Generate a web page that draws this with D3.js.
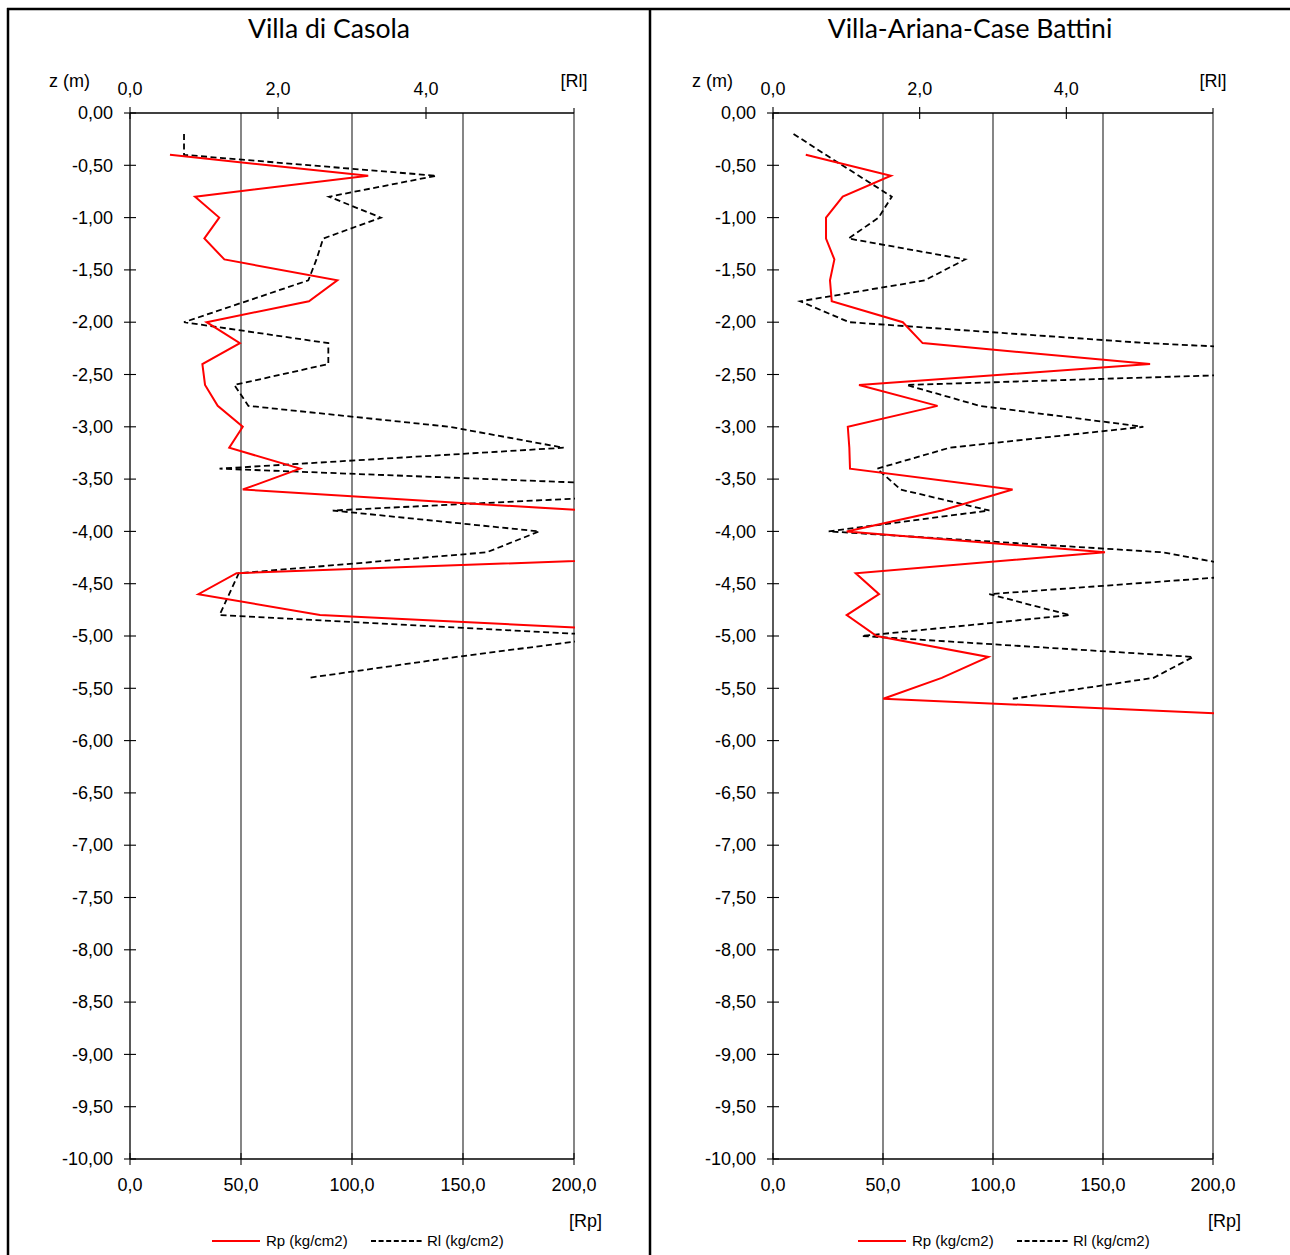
<!DOCTYPE html>
<html>
<head>
<meta charset="utf-8">
<script src="https://cdn.jsdelivr.net/npm/d3@7"></script>
<style>
  html, body { margin: 0; padding: 0; background: #fff; }
  svg { display: block; }
  .tick-label { font-family: "Liberation Sans", Arial, sans-serif; font-size: 18px; fill: #000; }
  .title { font-family: Lato, "Open Sans", sans-serif; font-size: 26.6px; fill: #000; }
  .legend { font-family: "Liberation Sans", Arial, sans-serif; font-size: 15px; fill: #000; }
</style>
</head>
<body>
<svg id="chart" width="1290" height="1255"></svg>
<script>
// ---------------- DATA ----------------
const titles = ["Villa di Casola", "Villa-Ariana-Case Battini"];

// Depth axis ticks (m)
const depthTicks = [0, -0.5, -1, -1.5, -2, -2.5, -3, -3.5, -4, -4.5, -5, -5.5, -6, -6.5, -7, -7.5, -8, -8.5, -9, -9.5, -10];
// Rp axis (bottom) ticks, Rl axis (top) ticks
const rpTicks = [0, 50, 100, 150, 200];
const rlTicks = [0, 2, 4, 6];

// Villa di Casola
const casolaRpDepth = [-0.4, -0.6, -0.8, -1.0, -1.2, -1.4, -1.6, -1.8, -2.0, -2.2, -2.4, -2.6, -2.8, -3.0, -3.2, -3.4, -3.6, -3.8, -4.0, -4.2, -4.4, -4.6, -4.8, -5.0];
const casolaRp      = [18.0, 107.3, 29.3, 40.2, 33.5, 42.5, 93.4, 80.6, 34.5, 49.5, 32.6, 33.8, 39.5, 50.8, 44.7, 76.6, 50.8, 205, 260, 308, 48.0, 30.8, 85.6, 281];
const casolaRlDepth = [-0.2, -0.4, -0.6, -0.8, -1.0, -1.2, -1.4, -1.6, -1.8, -2.0, -2.2, -2.4, -2.6, -2.8, -3.0, -3.2, -3.4, -3.6, -3.8, -4.0, -4.2, -4.4, -4.6, -4.8, -5.0, -5.2, -5.4];
const casolaRl      = [0.73, 0.73, 4.14, 2.69, 3.39, 2.61, 2.52, 2.41, 1.57, 0.73, 2.68, 2.68, 1.41, 1.60, 4.32, 5.86, 1.21, 8.5, 2.74, 5.53, 4.82, 1.47, 1.34, 1.21, 6.6, 4.41, 2.41];

// Villa-Ariana-Case Battini
const arianaRpDepth = [-0.4, -0.6, -0.8, -1.0, -1.2, -1.4, -1.6, -1.8, -2.0, -2.2, -2.4, -2.6, -2.8, -3.0, -3.2, -3.4, -3.6, -3.8, -4.0, -4.2, -4.4, -4.6, -4.8, -5.0, -5.2, -5.4, -5.6, -5.8];
const arianaRp      = [14.9, 53.6, 31.7, 24.1, 24.1, 27.9, 25.9, 26.7, 59.0, 68.0, 171.4, 39.1, 74.8, 34.0, 34.7, 35.0, 108.9, 76.7, 33.5, 150.9, 37.6, 48.2, 33.5, 47.1, 97.9, 76.7, 50.1, 267];
const arianaRlDepth = [-0.2, -0.4, -0.6, -0.8, -1.0, -1.2, -1.4, -1.6, -1.8, -2.0, -2.2, -2.4, -2.6, -2.8, -3.0, -3.2, -3.4, -3.6, -3.8, -4.0, -4.2, -4.4, -4.6, -4.8, -5.0, -5.2, -5.4, -5.6];
const arianaRl      = [0.28, 0.72, 1.17, 1.62, 1.44, 1.03, 2.62, 2.07, 0.37, 1.04, 5.1, 11, 1.82, 2.82, 5.05, 2.41, 1.42, 1.74, 2.95, 0.76, 5.32, 6.85, 2.95, 4.05, 1.21, 5.73, 5.19, 3.27];

const legendLabels = ["Rp (kg/cm2)", "Rl (kg/cm2)"];
const axisLabels = { depth: "z (m)", rl: "[Rl]", rp: "[Rp]" };

// ---------------- LAYOUT ----------------
const svg = d3.select("#chart");
const fmtDepth = v => (Math.abs(v) < 1e-9 ? "0,00" : d3.format(".2f")(v).replace("\u2212", "-").replace(".", ","));
const fmtOne = v => d3.format(".1f")(v).replace("\u2212", "-").replace(".", ",");

const panels = [
  { title: titles[0], cx: 329, x0: 130, x1: 574, rpD: casolaRpDepth, rp: casolaRp, rlD: casolaRlDepth, rl: casolaRl, legX: 212 },
  { title: titles[1], cx: 970, x0: 773, x1: 1213, rpD: arianaRpDepth, rp: arianaRp, rlD: arianaRlDepth, rl: arianaRl, legX: 858 }
];
const yTop = 113, yBot = 1159;

// Frame
svg.append("line").attr("x1", 7).attr("x2", 1290).attr("y1", 9).attr("y2", 9).attr("stroke", "#000").attr("stroke-width", 2.5);
svg.append("line").attr("x1", 8).attr("x2", 8).attr("y1", 8).attr("y2", 1255).attr("stroke", "#000").attr("stroke-width", 2.5);
svg.append("line").attr("x1", 650).attr("x2", 650).attr("y1", 8).attr("y2", 1255).attr("stroke", "#000").attr("stroke-width", 2.5);

panels.forEach((p, i) => {
  const g = svg.append("g");
  const y = d3.scaleLinear().domain([0, -10]).range([yTop, yBot]);
  const xRp = d3.scaleLinear().domain([0, 200]).range([p.x0, p.x1]);
  const xRl = d3.scaleLinear().domain([0, 6]).range([p.x0, p.x1]);

  // title
  g.append("text").attr("class", "title").attr("x", p.cx).attr("y", 38).attr("text-anchor", "middle").text(p.title);

  // vertical gridlines
  g.selectAll(".grid").data(rpTicks.slice(1)).enter().append("line")
    .attr("x1", d => xRp(d)).attr("x2", d => xRp(d)).attr("y1", yTop).attr("y2", yBot)
    .attr("stroke", "#222").attr("stroke-width", 1.1);

  // left depth axis
  const yAxis = d3.axisLeft(y).tickValues(depthTicks).tickFormat(fmtDepth).tickSize(0).tickPadding(17);
  const ya = g.append("g").attr("transform", `translate(${p.x0},0)`).call(yAxis);
  ya.select(".domain").remove();
  ya.selectAll("text").attr("class", "tick-label").attr("font-family", null).attr("font-size", null);
  g.append("line").attr("x1", p.x0).attr("x2", p.x0).attr("y1", yTop).attr("y2", yBot).attr("stroke", "#000").attr("stroke-width", 1.3);
  g.selectAll(".ytick").data(depthTicks).enter().append("line")
    .attr("x1", p.x0 - 6).attr("x2", p.x0 + 6).attr("y1", d => y(d)).attr("y2", d => y(d))
    .attr("stroke", "#000").attr("stroke-width", 1.1);

  // top axis (Rl)
  g.append("line").attr("x1", p.x0).attr("x2", p.x1).attr("y1", yTop).attr("y2", yTop).attr("stroke", "#000").attr("stroke-width", 1.3);
  g.selectAll(".ttick").data(rlTicks).enter().append("line")
    .attr("x1", d => xRl(d)).attr("x2", d => xRl(d)).attr("y1", d => d === 6 ? yTop - 5 : yTop - 6).attr("y2", d => d === 6 ? yTop : yTop + 6)
    .attr("stroke", "#000").attr("stroke-width", 1.1);
  g.selectAll(".tlabel").data(rlTicks.slice(0, 3)).enter().append("text")
    .attr("class", "tick-label").attr("x", d => xRl(d)).attr("y", 95).attr("text-anchor", "middle").text(fmtOne);
  g.append("text").attr("class", "tick-label").attr("x", xRl(6)).attr("y", 87).attr("text-anchor", "middle").text(axisLabels.rl);
  g.append("text").attr("class", "tick-label").attr("x", p.x0 - 40).attr("y", 87).attr("text-anchor", "end").text(axisLabels.depth);

  // bottom axis (Rp)
  g.append("line").attr("x1", p.x0).attr("x2", p.x1).attr("y1", yBot).attr("y2", yBot).attr("stroke", "#000").attr("stroke-width", 1.3);
  g.selectAll(".btick").data(rpTicks).enter().append("line")
    .attr("x1", d => xRp(d)).attr("x2", d => xRp(d)).attr("y1", yBot - 6).attr("y2", yBot + 6)
    .attr("stroke", "#000").attr("stroke-width", 1.1);
  g.selectAll(".blabel").data(rpTicks).enter().append("text")
    .attr("class", "tick-label").attr("x", d => xRp(d)).attr("y", 1191).attr("text-anchor", "middle").text(fmtOne);
  g.append("text").attr("class", "tick-label").attr("x", p.x1 + 28).attr("y", 1227).attr("text-anchor", "end").text(axisLabels.rp);

  // clip
  const clipId = "clip" + i;
  svg.append("clipPath").attr("id", clipId).append("rect")
    .attr("x", p.x0).attr("y", yTop - 30).attr("width", p.x1 - p.x0 + 1).attr("height", yBot - yTop + 30);
  const plot = g.append("g").attr("clip-path", `url(#${clipId})`);

  const rpLine = d3.line().x(d => xRp(d[1])).y(d => y(d[0]));
  const rlLine = d3.line().x(d => xRl(d[1])).y(d => y(d[0]));

  plot.append("path").datum(d3.zip(p.rlD, p.rl)).attr("d", rlLine)
    .attr("fill", "none").attr("stroke", "#000").attr("stroke-width", 1.8).attr("stroke-dasharray", "6,3.5");
  plot.append("path").datum(d3.zip(p.rpD, p.rp)).attr("d", rpLine)
    .attr("fill", "none").attr("stroke", "#ff0000").attr("stroke-width", 2);

  // legend
  const ly = 1241;
  const lg = g.append("g");
  lg.append("line").attr("x1", p.legX).attr("x2", p.legX + 48).attr("y1", ly).attr("y2", ly).attr("stroke", "#ff0000").attr("stroke-width", 2);
  lg.append("text").attr("class", "legend").attr("x", p.legX + 54).attr("y", ly + 5).text(legendLabels[0]);
  lg.append("line").attr("x1", p.legX + 159).attr("x2", p.legX + 211).attr("y1", ly).attr("y2", ly).attr("stroke", "#000").attr("stroke-width", 1.8).attr("stroke-dasharray", "5,2.6");
  lg.append("text").attr("class", "legend").attr("x", p.legX + 215).attr("y", ly + 5).text(legendLabels[1]);
});
</script>
</body>
</html>
